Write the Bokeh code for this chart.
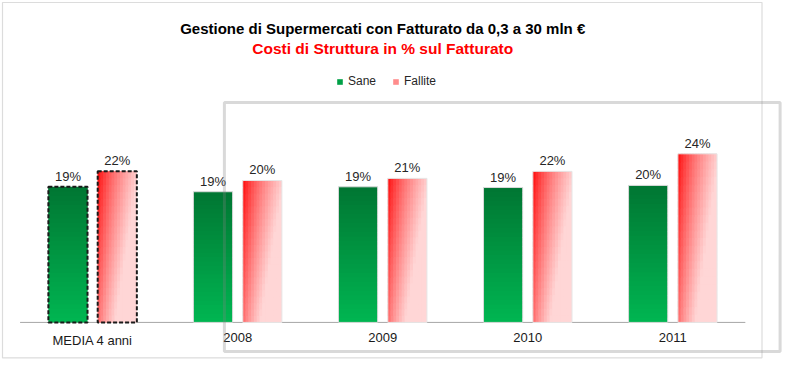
from bokeh.plotting import figure
from bokeh.models import Range1d, ColumnDataSource, Legend, LegendItem, BoxAnnotation
from bokeh.core.properties import value
from bokeh.embed import file_html
from bokeh.resources import INLINE

# ---- data ----
categories = ["MEDIA 4 anni", "2008", "2009", "2010", "2011"]
sane = [19.3, 18.6, 19.3, 19.2, 19.5]
fallite = [21.5, 20.2, 20.5, 21.5, 24.0]
sane_labels = ["19%", "19%", "19%", "19%", "20%"]
fallite_labels = ["22%", "20%", "21%", "22%", "24%"]
series_names = ["Sane", "Fallite"]
title_text = "Gestione di Supermercati con Fatturato da 0,3 a 30 mln €"
subtitle_text = "Costi di Struttura in % sul Fatturato"

FONT = "Liberation Sans"
BAR_W = 0.27
OFF = 0.17
idx = list(range(len(categories)))

p = figure(width=784, height=364, x_range=Range1d(-0.635, 4.770), y_range=Range1d(-5.99, 45.82),
           output_backend="svg", toolbar_location=None,
           min_border_left=0, min_border_right=0, min_border_top=0, min_border_bottom=0)
p.outline_line_color = None
p.xgrid.visible = False
p.ygrid.visible = False
p.xaxis.visible = False
p.yaxis.visible = False
p.background_fill_color = "white"


def mix(c0, c1, t):
    t = max(0.0, min(1.0, t))
    return "#%02x%02x%02x" % tuple(int(round(a + (b - a) * t)) for a, b in zip(c0, c1))


# ---- baseline (category axis line) ----
p.segment(x0=[idx[0] - 0.5], x1=[idx[-1] + 0.5], y0=[0], y1=[0], line_color="#A6A6A6", line_width=1)

# ---- category labels ----
csrc = ColumnDataSource(dict(x=idx, y=[0] * len(idx), t=categories))
p.text(x="x", y="y", text="t", source=csrc, text_align="center", text_baseline="top", y_offset=11,
       text_font=value(FONT), text_font_size="13px", text_color="#1a1a1a")

# ---- green bars: vertical gradient (overlapping cells, no seams) ----
NV = 30
gl, gr, gb, gt, gc = [], [], [], [], []
for k, v in zip(idx, sane):
    for i in range(NV):
        gl.append(k - OFF - BAR_W / 2)
        gr.append(k - OFF + BAR_W / 2)
        gb.append(v * i / NV)
        gt.append(min(v, v * (i + 1.8) / NV))
        gc.append(mix((0, 182, 82), (0, 118, 50), (i + 0.5) / NV))
p.quad(left=gl, right=gr, bottom=gb, top=gt, fill_color=gc, line_color=None)

# ---- red bars: diagonal gradient ----
NH, NVR = 14, 22
sw = BAR_W / NH
rl, rr, rb, rt, rc = [], [], [], [], []
for k, v in zip(idx, fallite):
    x0 = k + OFF - BAR_W / 2
    for j in range(NH):
        u = (j + 0.5) / NH
        for i in range(NVR):
            vv = 1 - (i + 0.5) / NVR  # 0 at top, 1 at bottom
            rl.append(x0 + j * sw)
            rr.append(min(x0 + BAR_W, x0 + (j + 1.8) * sw))
            rb.append(v * i / NVR)
            rt.append(min(v, v * (i + 1.8) / NVR))
            rc.append(mix((255, 0, 0), (255, 214, 214), 0.95 * u ** 0.7 + 0.45 * vv))
p.quad(left=rl, right=rr, bottom=rb, top=rt, fill_color=rc, line_color=None)

# ---- outlines ----
osrc = ColumnDataSource(dict(xs=[k - OFF for k in idx[1:]], xf=[k + OFF for k in idx[1:]],
                             s=sane[1:], f=fallite[1:]))
p.vbar(x="xs", top="s", width=BAR_W, fill_color=None, line_color="#DADADA", line_width=1, source=osrc)
p.vbar(x="xf", top="f", width=BAR_W, fill_color=None, line_color="#E6E6E6", line_width=1, source=osrc)
msrc = ColumnDataSource(dict(xs=[idx[0] - OFF], xf=[idx[0] + OFF], s=sane[:1], f=fallite[:1]))
p.vbar(x="xs", top="s", width=BAR_W, fill_color=None, line_color="#1a1a1a", line_width=2,
       line_dash="4 2", source=msrc)
p.vbar(x="xf", top="f", width=BAR_W, fill_color=None, line_color="#1a1a1a", line_width=2,
       line_dash="4 2", source=msrc)

# ---- data labels ----
lsrc = ColumnDataSource(dict(xs=[k - OFF for k in idx], xf=[k + OFF for k in idx],
                             s=sane, f=fallite, sl=sane_labels, fl=fallite_labels))
for xc, col, lab in (("xs", "s", "sl"), ("xf", "f", "fl")):
    p.text(x=xc, y=col, text=lab, source=lsrc, text_align="center", text_baseline="bottom",
           y_offset=-3, text_font=value(FONT), text_font_size="13px", text_color="#262626")

# ---- titles ----
tsrc = ColumnDataSource(dict(x=[(idx[0] + idx[-1]) / 2], y1=[41.87], y2=[39.0],
                             t1=[title_text], t2=[subtitle_text]))
p.text(x="x", y="y1", text="t1", source=tsrc, text_align="center", text_baseline="middle",
       text_font=value(FONT), text_font_style="bold", text_font_size="15px", text_color="#000000")
p.text(x="x", y="y2", text="t2", source=tsrc, text_align="center", text_baseline="middle",
       text_font=value(FONT), text_font_style="bold", text_font_size="15.5px", text_color="#FF0000")

# ---- legend (zero-height proxy glyphs) ----
lg = p.vbar(x=[idx[0]], top=[0], width=0.01, fill_color="#00A046", line_color=None)
lr = p.vbar(x=[idx[0]], top=[0], width=0.01, fill_color="#FF8C8C", line_color=None)
legend = Legend(items=[LegendItem(label=series_names[0], renderers=[lg]),
                       LegendItem(label=series_names[1], renderers=[lr])],
                orientation="horizontal", location=(336, 276), padding=0, margin=0,
                spacing=16, glyph_width=7, glyph_height=7, label_height=12,
                label_standoff=5, label_text_font=FONT, label_text_font_size="12px",
                label_text_color="#262626", border_line_color=None, background_fill_alpha=0)
p.add_layout(legend)

# ---- frame decorations ----
p.add_layout(BoxAnnotation(left=2, right=761.5, top=2, bottom=357.3,
                           left_units="canvas", right_units="canvas", top_units="canvas",
                           bottom_units="canvas", fill_color=None, line_color="#8C8C8C", line_width=1.2))
p.add_layout(BoxAnnotation(left=223.9, right=779.6, top=102.0, bottom=351.1,
                           left_units="canvas", right_units="canvas", top_units="canvas",
                           bottom_units="canvas", fill_color=None, line_color="#808080", line_width=3))

open("out.html", "w").write(file_html(p, INLINE))
